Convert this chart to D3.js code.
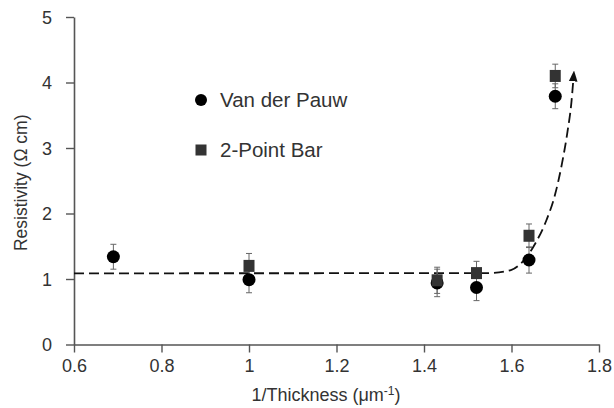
<!DOCTYPE html>
<html>
<head>
<meta charset="utf-8">
<script src="https://cdn.jsdelivr.net/npm/d3@7"></script>
<style>
  body { margin: 0; background: #fff; }
  text { font-family: "Liberation Sans", Arial, sans-serif; fill: #333; }
</style>
</head>
<body>
<svg id="chart"></svg>
<script>
// Data
const thickness = [0.69, 1.0, 1.43, 1.52, 1.64, 1.70];
const vanDerPauw = [1.34, 0.99, 0.94, 0.87, 1.29, 3.79];
const vanDerPauwErr = [0.19, 0.2, 0.21, 0.2, 0.2, 0.19];
const pointBar = [null, 1.20, 0.98, 1.09, 1.66, 4.10];
const pointBarErr = [null, 0.19, 0.2, 0.18, 0.18, 0.18];
// dashed trend line
const trendX = [0.6, 1.55, 1.60, 1.63, 1.655, 1.68, 1.70, 1.715, 1.728, 1.737, 1.742];
const trendY = [1.087, 1.09, 1.14, 1.30, 1.55, 1.90, 2.30, 2.75, 3.25, 3.70, 4.10];
const xTicks = [0.6, 0.8, 1.0, 1.2, 1.4, 1.6, 1.8];
const yTicks = [0, 1, 2, 3, 4, 5];

const width = 614, height = 408;
const margin = {top: 17, right: 15, bottom: 63, left: 74};

const svg = d3.select('#chart')
    .attr('width', width)
    .attr('height', height);

const x = d3.scaleLinear().domain([0.6, 1.8]).range([margin.left, 599]);
const y = d3.scaleLinear().domain([0, 5]).range([344.5, margin.top]);

// arrow head for the trend line
svg.append('defs').append('marker')
    .attr('id', 'arrow')
    .attr('viewBox', '0 0 10 10')
    .attr('refX', 5).attr('refY', 5)
    .attr('markerWidth', 6).attr('markerHeight', 6)
    .attr('orient', 'auto')
  .append('path')
    .attr('d', 'M0,1 L10,5 L0,9 Z')
    .attr('fill', '#111');

// axes
const xAxis = d3.axisBottom(x).tickValues(xTicks).tickSize(8).tickSizeOuter(0)
    .tickFormat(d => d === 1 ? '1' : d3.format('.1f')(d)).tickPadding(7);
const yAxis = d3.axisLeft(y).tickValues(yTicks).tickSize(8).tickSizeOuter(0)
    .tickFormat(d3.format('d')).tickPadding(14);

const xAxisG = svg.append('g')
    .attr('transform', `translate(0,${y(0)})`)
    .call(xAxis);
const yAxisG = svg.append('g')
    .attr('transform', `translate(${x(0.6)},0)`)
    .call(yAxis);

[xAxisG, yAxisG].forEach(g => {
  g.select('.domain').attr('stroke', '#555').attr('stroke-width', 1.6);
  g.selectAll('.tick line').attr('stroke', '#555').attr('stroke-width', 1.4);
  g.selectAll('.tick text')
      .style('font-family', '"Liberation Sans", Arial, sans-serif')
      .style('font-size', '18px')
      .attr('fill', '#333');
});
yAxisG.selectAll('.tick text').attr('dy', '0.35em');

// axis titles
svg.append('text')
    .attr('x', 326)
    .attr('y', 401)
    .style('text-anchor', 'middle')
    .style('font-size', '18px')
    .html('1/Thickness (μm<tspan dy="-6" font-size="12">-1</tspan><tspan dy="6">)</tspan>');

svg.append('text')
    .attr('transform', `translate(27,${(y(0) + y(5)) / 2 + 2}) rotate(-90)`)
    .style('text-anchor', 'middle')
    .style('font-size', '17.5px')
    .text('Resistivity (Ω cm)');

// trend line
const trend = trendX.map((d, i) => ({x: d, y: trendY[i]}));
svg.append('path')
    .datum(trend)
    .attr('fill', 'none')
    .attr('stroke', '#111')
    .attr('stroke-width', 1.8)
    .attr('stroke-dasharray', '10,5')
    .attr('marker-end', 'url(#arrow)')
    .attr('d', d3.line().x(d => x(d.x)).y(d => y(d.y)).curve(d3.curveMonotoneX));

// error bars
function errorBars(vals, errs) {
  const pts = thickness.map((t, i) => ({t, v: vals[i], e: errs[i]})).filter(d => d.v != null);
  const g = svg.append('g').attr('stroke', '#666').attr('stroke-width', 1);
  g.selectAll('.stem').data(pts).join('line')
      .attr('x1', d => x(d.t)).attr('x2', d => x(d.t))
      .attr('y1', d => y(d.v - d.e)).attr('y2', d => y(d.v + d.e));
  g.selectAll('.capTop').data(pts).join('line')
      .attr('x1', d => x(d.t) - 3).attr('x2', d => x(d.t) + 3)
      .attr('y1', d => y(d.v + d.e)).attr('y2', d => y(d.v + d.e));
  g.selectAll('.capBot').data(pts).join('line')
      .attr('x1', d => x(d.t) - 3).attr('x2', d => x(d.t) + 3)
      .attr('y1', d => y(d.v - d.e)).attr('y2', d => y(d.v - d.e));
}
errorBars(vanDerPauw, vanDerPauwErr);
errorBars(pointBar, pointBarErr);

// markers
svg.selectAll('.vdp')
    .data(thickness.map((t, i) => ({t, v: vanDerPauw[i]})))
    .join('circle')
    .attr('class', 'vdp')
    .attr('cx', d => x(d.t))
    .attr('cy', d => y(d.v))
    .attr('r', 6.5)
    .attr('fill', '#000');

svg.selectAll('.bar2')
    .data(thickness.map((t, i) => ({t, v: pointBar[i]})).filter(d => d.v != null))
    .join('rect')
    .attr('class', 'bar2')
    .attr('x', d => x(d.t) - 5.5)
    .attr('y', d => y(d.v) - 6)
    .attr('width', 11)
    .attr('height', 12)
    .attr('fill', '#333');

// legend
const legend = svg.append('g');
legend.append('circle').attr('cx', 201).attr('cy', 100).attr('r', 6).attr('fill', '#000');
legend.append('text').attr('x', 220).attr('y', 107).style('font-size', '20.5px').text('Van der Pauw');
legend.append('rect').attr('x', 195.5).attr('y', 144.5).attr('width', 11).attr('height', 11).attr('fill', '#333');
legend.append('text').attr('x', 220).attr('y', 157).style('font-size', '20.5px').text('2-Point Bar');
</script>
</body>
</html>
